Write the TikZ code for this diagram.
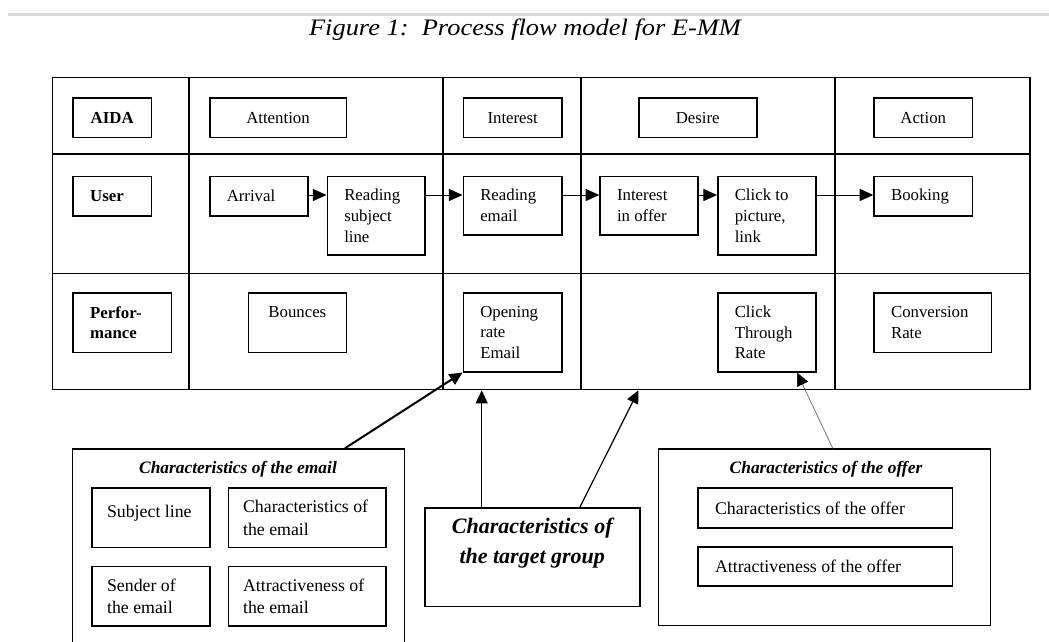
\documentclass[tikz,border=0pt]{standalone}
\usepackage{fontspec}
\setmainfont{Liberation Serif}
\usepackage{graphicx}
\usetikzlibrary{fit,arrows.meta}

\newcommand\fsa{\fontsize{8.4}{10.4}\selectfont}
\newcommand\fsb{\fontsize{8.9}{11.25}\selectfont}
% [text width], name, x1, y1, x2, y2, options, text
\newcommand\bx[8][]{%
  \pgfmathsetmacro\bw{(#5-#3)*0.5}%
  \pgfmathsetmacro\bh{(#6-#4)*0.5}%
  \ifx\relax#1\relax\pgfmathsetmacro\tw{(#5-#3-34)*0.5}\else\def\tw{#1}\fi
  \node[box,minimum width=\bw pt,minimum height=\bh pt,anchor=north west,#7]
    (#2) at (#3,#4) {\parbox{\tw pt}{\raggedright #8}};}

\begin{document}
\begin{tikzpicture}[x=0.5pt,y=-0.5pt,
  box/.style={draw,line width=0.75pt,inner sep=0pt,font=\fsa},
  lbox/.style={box,font=\fsb},
  hdr/.style={box,font=\fsa\bfseries},
  frame/.style={draw,line width=0.8pt,inner sep=0pt},
  gridline/.style={line width=0.8pt},
  ttl/.style={font=\fontsize{8.7}{10}\selectfont\bfseries\itshape,inner sep=0pt},
  uarr/.style={line width=0.5pt,-{Triangle[length=6.8pt,width=6pt]}},
  barr/.style={line width=1pt,-{Triangle[length=6.5pt,width=6pt]}},
  marr/.style={line width=0.6pt,-{Triangle[length=6.5pt,width=6pt]}},
  garr/.style={line width=0.35pt,draw=black!60,-{Triangle[length=6.5pt,width=6pt,color=black]}}
]
\useasboundingbox (0,0) rectangle (1049,642);

% top rule and title
\draw[black!14,line width=1.5pt] (8,15) -- (1049,15);
\node[anchor=base,inner sep=0pt] (title) at (525,35.7)
  {\scalebox{1.12}[1]{\fontsize{11.8}{13}\selectfont\itshape Figure 1:\ \ Process flow model for E-MM}};

% table
\node[frame,fit={(52.5,77.5)(1030,389.5)}] (tbl) {};
\foreach \x in {189,443,581,835}
  \draw[gridline] (\x,0 |- tbl.north) -- (\x,0 |- tbl.south);
\foreach \y in {154,273.5}
  \draw[gridline] (tbl.west |- 0,\y) -- (tbl.east |- 0,\y);

% row labels
\bx{aida}{72.4}{97.3}{150.5}{136.7}{hdr}{\centering AIDA}
\bx{user}{72.4}{175.7}{150.6}{215}{hdr}{User}
\bx{perf}{72.4}{292.3}{170.5}{351.7}{hdr}{Perfor-\\mance}

% AIDA row
\bx{att}{209}{97.3}{345.5}{136.7}{box}{\centering Attention}
\bx{int}{462.5}{97.3}{561.4}{136.7}{box}{\centering Interest}
\bx{des}{638}{97.3}{756}{136.7}{box}{\centering Desire}
\bx{act}{873.3}{97.3}{971.7}{136.7}{box}{\centering Action}

% User row
\bx{arr}{209}{175.7}{307}{215}{box}{Arrival}
\bx{rsl}{326.5}{175.7}{424.3}{254}{box}{Reading\\subject\\line}
\bx{rem}{462.5}{175.7}{561.4}{234}{box}{Reading\\email}
\bx{iio}{599.3}{175.7}{697.3}{234}{box}{Interest\\in offer}
\bx{ctp}{717}{175.7}{815.3}{254}{box}{Click to\\picture,\\link}
\bx{book}{873.3}{175.7}{971.7}{215}{box}{Booking}

% Performance row
\bx{bnc}{247.7}{292.3}{345.5}{351.7}{box}{\centering Bounces\\\mbox{}}
\bx{ore}{462.5}{292.3}{561.4}{371}{box}{Opening\\rate\\Email}
\bx{ctr}{717}{292.3}{815.3}{371}{box}{Click\\Through\\Rate}
\bx{conv}{873.3}{292.3}{990.7}{351.7}{box}{Conversion\\Rate}

% user-row flow
\draw[uarr] (arr.east |- 0,195) -- (rsl.west |- 0,195);
\draw[uarr] (rsl.east |- 0,195) -- (rem.west |- 0,195);
\draw[uarr] (rem.east |- 0,195) -- (iio.west |- 0,195);
\draw[uarr] (iio.east |- 0,195) -- (ctp.west |- 0,195);
\draw[uarr] (ctp.east |- 0,195) -- (book.west |- 0,195);

% characteristics of the email
\node[frame,line width=0.75pt,fit={(72.3,449)(404.3,700)}] (ebox) {};
\node[ttl,anchor=base] (etitle) at (238,473.5) {Characteristics of the email};
\bx[44]{subj}{91.3}{487.3}{209.3}{546.7}{lbox}{Subject line\\[-5pt]\mbox{}}
\bx[64]{chem}{227.7}{487.3}{385}{546.7}{lbox}{Characteristics of\\the email}
\bx[44]{snd}{91.3}{565.7}{209.3}{625.3}{lbox}{Sender of\\the email}
\bx[64]{atem}{227.7}{565.7}{385}{625.3}{lbox}{Attractiveness of\\the email}

% target group
\bx{tgt}{424}{507}{639}{605.7}{box,font=\fontsize{11}{15}\selectfont\bfseries\itshape}{\centering Characteristics of\\the target group\\[1pt]\mbox{}}

% characteristics of the offer
\node[frame,line width=0.75pt,fit={(658.3,449)(990.7,625.7)}] (obox) {};
\node[ttl,anchor=base] (otitle) at (826,473.5) {Characteristics of the offer};
\bx{of1}{697.3}{487.3}{951.7}{527.3}{lbox}{Characteristics of the offer}
\bx{of2}{697.3}{546}{951.7}{585}{lbox}{Attractiveness of the offer}

% influence arrows
\draw[barr] (345,0 |- ebox.north) -- (ore.south west);
\draw[marr] (481.7,0 |- tgt.north) -- (481.7,0 |- tbl.south);
\draw[marr] (580,0 |- tgt.north) -- (638.5,0 |- tbl.south);
\draw[garr] (832.7,0 |- obox.north) -- (797,0 |- ctr.south);
\end{tikzpicture}
\end{document}
